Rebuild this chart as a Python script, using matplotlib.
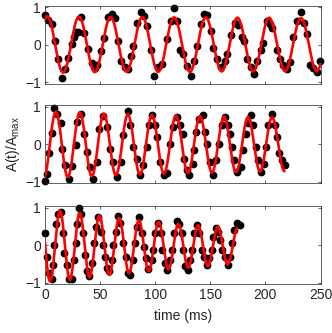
import numpy as np
import matplotlib
matplotlib.use('Agg')
from matplotlib import pyplot as plt


#measured samples, one list pair per panel (time in ms, normalised amplitude)

t1 = [0.0, 3.0, 6.0, 9.1, 12.1, 15.1, 18.1, 21.2, 24.2, 26.0, 28.0, 30.0, 32.3, 35.5,
      39.3, 42.3, 45.3, 47.5, 50.5, 53.8, 57.4, 60.5, 63.5, 66.5, 69.0, 72.5, 75.6,
      78.0, 80.1, 83.2, 87.0, 90.0, 92.5, 95.8, 99.1, 102.8, 106.5, 110.5, 114.3,
      117.3, 119.4, 122.4, 125.4, 128.5, 132.4, 135.1, 138.1, 141.2, 144.2, 146.6,
      150.3, 152.6, 156.3, 159.3, 163.2, 165.3, 168.4, 172.3, 175.3, 178.4, 180.5,
      182.9, 186.5, 189.5, 192.5, 195.6, 198.0, 201.0, 204.0, 205.6, 210.1, 213.1,
      216.1, 219.2, 222.2, 225.2, 228.2, 231.9, 234.9, 237.3, 240.3, 243.3, 246.4,
      249.4]
a1 = [0.79, 0.66, 0.56, 0.09, -0.38, -0.88, -0.64, -0.34, 0.01, 0.20, 0.34, 0.33, 0.75, 0.31,
      -0.10, -0.49, -0.62, -0.55, -0.17, 0.18, 0.75, 0.83, 0.70, 0.09, -0.43, -0.60, -0.64,
      -0.30, -0.04, 0.59, 0.87, 0.76, 0.50, -0.15, -0.82, -0.60, -0.50, 0.15, 0.63,
      0.99, 0.63, -0.15, -0.25, -0.56, -0.82, -0.43, -0.02, 0.56, 0.82, 0.80,
      0.36, -0.08, -0.38, -0.60, -0.43, -0.25, 0.27, 0.57, 0.53, 0.22, 0.09,
      -0.39, -0.60, -0.77, -0.43, -0.13, 0.05, 0.62, 0.54, 0.45, -0.15, -0.37,
      -0.55, -0.64, -0.47, 0.20, 0.62, 0.88, 0.58, 0.28, -0.55, -0.62, -0.72,
      -0.43]

t2 = [0.0, 2.1, 3.9, 6.0, 8.2, 11.2, 14.2, 15.7, 18.1, 21.8, 24.8, 27.8, 29.3, 32.3,
      35.4, 37.8, 40.8, 43.8, 46.8, 49.3, 52.9, 55.9, 58.9, 61.4, 65.0, 68.6, 71.1,
      75.0, 77.1, 80.1, 83.2, 86.2, 89.2, 92.2, 94.6, 96.7, 99.7, 101.2, 104.3, 107.9,
      110.3, 113.3, 116.3, 119.4, 122.4, 124.8, 126.0, 128.5, 130.9, 133.9, 135.1,
      136.9, 139.9, 143.0, 145.1, 147.2, 149.6, 152.6, 155.1, 158.1, 160.2, 163.2,
      166.3, 167.8, 169.3, 171.4, 174.4, 177.4, 179.8, 182.3, 184.4, 186.5, 188.9,
      191.3, 193.5, 195.6, 198.6, 200.4, 202.5, 205.6, 208.6, 210.1, 212.5, 214.6,
      217.6]
a2 = [-0.97, -0.78, -0.24, 0.31, 0.98, 0.82, 0.57, -0.11, -0.56, -0.91, -0.58, -0.02, 0.60, 0.80,
      0.29, -0.20, -0.60, -0.91, -0.47, 0.42, 0.75, 0.47, -0.11, -0.47, -0.87, -0.47, 0.24,
      0.89, 0.51, -0.07, -0.38, -0.82, -0.56, -0.07, 0.51, 0.78, 0.51, 0.20, -0.47, -0.82,
      -0.75, 0.02, 0.47, 0.73, 0.51, 0.29, -0.38, -0.69, -0.82, -0.51, -0.16,
      0.33, 0.69, 0.78, 0.33, 0.02, -0.47, -0.82, -0.42, 0.02, 0.51, 0.73,
      0.51, 0.29, -0.07, -0.42, -0.73, -0.60, -0.16, 0.29, 0.56, 0.78, 0.51,
      -0.07, -0.42, -0.73, -0.51, -0.07, 0.51, 0.82, 0.51, 0.20, -0.24, -0.42,
      -0.56]

t3 = [0.0, 1.5, 3.9, 6.0, 7.5, 8.5, 10.0, 12.1, 14.2, 16.0, 17.2, 19.7, 22.0, 24.2,
      26.3, 28.1, 29.3, 31.1, 32.4, 34.2, 36.3, 38.4, 40.2, 42.3, 44.4, 46.2, 48.3,
      50.5, 52.5, 54.4, 56.5, 58.3, 60.5, 62.0, 64.4, 66.5, 68.0, 71.0, 73.5, 75.6,
      77.1, 79.5, 81.6, 83.7, 85.5, 87.7, 89.5, 91.6, 93.7, 96.7, 98.2, 99.7, 102.8,
      105.2, 106.4, 108.8, 110.3, 113.4, 114.9, 117.3, 119.4, 121.5, 123.9, 125.4,
      126.9, 129.4, 131.5, 133.0, 135.4, 137.5, 139.6, 142.1, 144.5, 146.6, 148.7,
      151.1, 152.6, 154.8, 157.2, 158.7, 160.8, 163.2, 165.6, 167.8, 169.9, 171.7,
      173.8, 176.8]
a3 = [0.32, -0.30, -0.75, -0.91, -0.52, 0.00, 0.56, 0.84, 0.89, 0.32, -0.21, -0.52, -0.89, -0.91,
      -0.39, 0.07, 0.56, 1.00, 0.84, 0.32, -0.25, -0.69, -0.82, -0.47, 0.05, 0.49, 0.75,
      0.36, 0.00, -0.30, -0.61, -0.69, -0.39, 0.01, 0.36, 0.77, 0.58, 0.05, -0.30, -0.74,
      -0.78, -0.39, 0.05, 0.49, 0.75, 0.32, -0.04, -0.34, -0.62, -0.39, -0.12, 0.32, 0.58,
      0.32, -0.12, -0.47, -0.65, -0.39, -0.12, 0.32, 0.65, 0.56, 0.32, -0.12,
      -0.56, -0.65, -0.39, -0.12, 0.32, 0.54, 0.32, -0.12, -0.30, -0.52, -0.34,
      -0.12, 0.23, 0.45, 0.36, 0.14, -0.12, -0.30, -0.52, -0.30, 0.05, 0.40,
      0.60, 0.54]


fit1_t = [-12.4, 2.0, 16.4, 30.8, 45.2, 59.5, 74.0, 88.3, 102.7, 117.1, 131.5, 145.9,
          160.3, 174.6, 189.0, 203.4, 217.8, 232.2, 246.6, 261.0]
fit1_a = [-0.76, 0.76, -0.74, 0.75, -0.73, 0.74, -0.72, 0.74, -0.72, 0.73, -0.72, 0.73,
          -0.71, 0.72, -0.71, 0.72, -0.70, 0.71, -0.70, 0.70]
fit1_end = 250.0

fit2_t = [-1.1, 9.8, 20.7, 31.6, 42.5, 53.4, 64.3, 75.2, 86.1, 97.0, 107.9, 118.8,
          129.7, 140.6, 151.5, 162.4, 173.3, 184.2, 195.1, 206.0, 217.2, 228.0]
fit2_a = [-0.89, 0.87, -0.87, 0.85, -0.85, 0.82, -0.82, 0.80, -0.80, 0.78, -0.78, 0.77,
          -0.76, 0.75, -0.75, 0.74, -0.74, 0.73, -0.72, 0.72, -0.71, 0.71]
fit2_end = 217.0

fit3_t = [-4.3, 4.6, 13.6, 22.5, 31.5, 40.4, 49.4, 58.3, 67.3, 76.2, 85.2, 94.1, 103.1,
          112.0, 121.0, 129.9, 138.9, 147.8, 156.8, 165.7, 174.7]
fit3_a = [0.98, -0.96, 0.92, -0.92, 0.86, -0.85, 0.79, -0.79, 0.73, -0.74, 0.67, -0.69, 0.62,
          -0.64, 0.57, -0.60, 0.53, -0.55, 0.49, -0.51, 0.46]
fit3_end = 174.0

x_ticks = [0, 50, 100, 150, 200, 250]
y_ticks = [-1, 0, 1]


def smooth_through(ext_t, ext_a, t_end):
    #half-cosine between consecutive extrema so the curve keeps its sine shape
    ext_t = np.asarray(ext_t)
    ext_a = np.asarray(ext_a)
    t = np.linspace(0, t_end, 1500)
    i = np.clip(np.searchsorted(ext_t, t) - 1, 0, len(ext_t) - 2)
    frac = (t - ext_t[i]) / (ext_t[i + 1] - ext_t[i])
    w = (1 - np.cos(np.pi * frac)) / 2
    return t, ext_a[i] + (ext_a[i + 1] - ext_a[i]) * w


plt.rcParams['font.family'] = ['Liberation Sans', 'DejaVu Sans']
plt.rcParams['font.size'] = 10
axis_col = '#262626'

fig = plt.figure(figsize=(3.32, 3.33), dpi=100)

panels = [
    (t1, a1, fit1_t, fit1_a, fit1_end, 0.7483),
    (t2, a2, fit2_t, fit2_a, fit2_end, 0.4490),
    (t3, a3, fit3_t, fit3_a, fit3_end, 0.1462),
]

axes = []
for k, (ts, amps, ft, fa, fend, y0) in enumerate(panels):
    ax = fig.add_axes([0.1355, y0, 0.830, 0.2345])
    ax.plot(ts, amps, 'o', color='black', markersize=4.6, clip_on=False, zorder=2)
    xs, ys = smooth_through(ft, fa, fend)
    ax.plot(xs, ys, color='red', linewidth=1.9, zorder=3)

    ax.set_xlim(0, 250)
    ax.set_ylim(-1.04, 1.04)
    ax.set_xticks(x_ticks)
    ax.set_yticks(y_ticks)
    ax.tick_params(direction='in', length=2.5, width=0.5, colors=axis_col,
                   top=True, right=True, labelsize=10, pad=3)
    for s in ax.spines.values():
        s.set_linewidth(0.5)
        s.set_color(axis_col)
    if k < 2:
        ax.set_xticklabels([])
    axes.append(ax)

axes[1].set_ylabel(r'A(t)/A$_\mathregular{max}$', color=axis_col, labelpad=2)
axes[2].set_xlabel('time (ms)', color=axis_col, labelpad=5)

plt.savefig('out.png', dpi=100)
